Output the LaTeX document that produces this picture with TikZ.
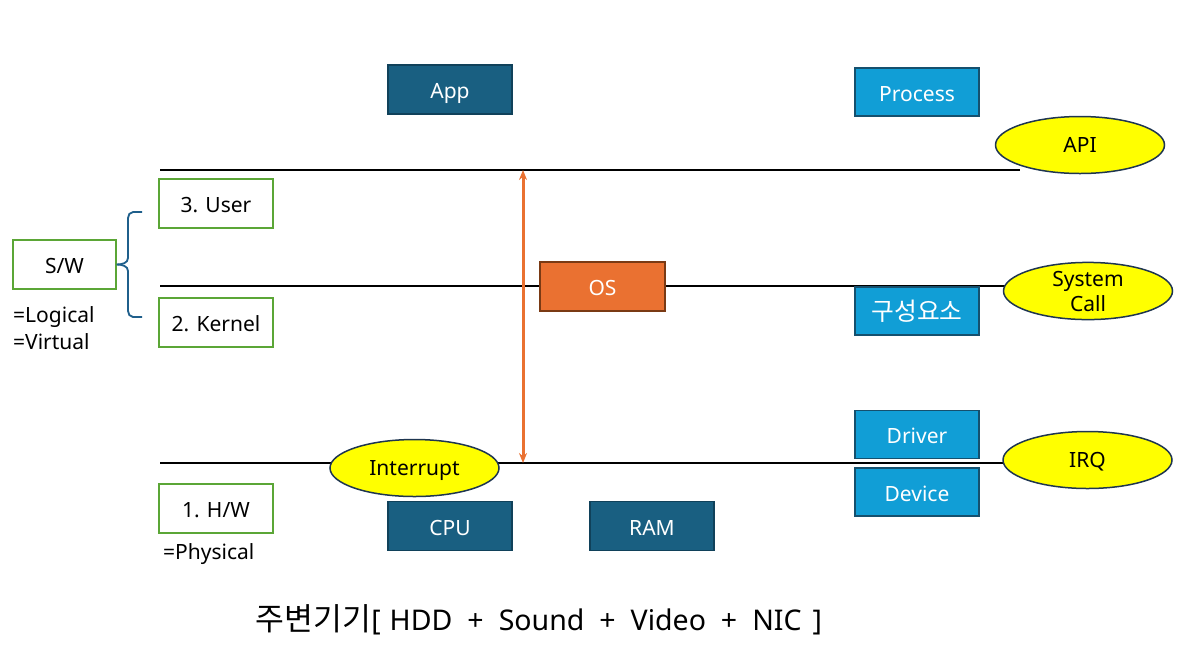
\documentclass[tikz,border=0pt]{standalone}
\usepackage{fontspec}
\setmainfont{Noto Sans}
\newfontfamily\kr[Scale=1.18]{Noto Sans CJK KR}
\newfontfamily\krb[Scale=1.1]{Noto Sans CJK KR}
\usetikzlibrary{shapes.geometric,arrows.meta}
\definecolor{darkfill}{HTML}{195F81}
\definecolor{darkedge}{HTML}{10415A}
\definecolor{lightfill}{HTML}{119ED6}
\definecolor{lightedge}{HTML}{15506E}
\definecolor{grn}{HTML}{5BA636}
\definecolor{orng}{HTML}{EA7131}
\definecolor{orngedge}{HTML}{7A3A14}
\definecolor{ylw}{HTML}{FFFF00}
\definecolor{ylwedge}{HTML}{1E3550}
\definecolor{bracec}{HTML}{1F5F8B}
\tikzset{
  base/.style={font=\fontsize{21}{24}\selectfont, inner sep=0pt, line width=1.5pt, text height=18pt, text depth=0pt},
  darkbox/.style={base, rectangle, fill=darkfill, draw=darkedge, text=white, minimum width=124pt, minimum height=49pt},
  lightbox/.style={base, rectangle, fill=lightfill, draw=lightedge, text=white, minimum width=124pt, minimum height=48pt},
  greenbox/.style={base, rectangle, fill=white, draw=grn, text=black, minimum width=114pt, minimum height=49pt},
  osbox/.style={base, rectangle, fill=orng, draw=orngedge, text=white, minimum width=125pt, minimum height=49pt},
  oval/.style={base, ellipse, fill=ylw, draw=ylwedge, text=black, minimum width=169pt, minimum height=57pt, text height=15pt},
  oval2/.style={oval, text height=, text depth=, align=center, font=\fontsize{21}{24}\selectfont},
  layer/.style={line width=1.8pt, draw=black},
  note/.style={font=\fontsize{21}{27}\selectfont, inner sep=0pt, anchor=west, align=left},
}
\begin{document}
\begin{tikzpicture}[x=1pt,y=-1pt]
\useasboundingbox (0,0) rectangle (1198,649);
% layer line end points
\coordinate (l1a) at (160,170);
\coordinate (l1b) at (1020,170);
\coordinate (l2a) at (160,286);
\coordinate (l2b) at (1010,286);
\coordinate (l3a) at (160,463);
\coordinate (l3b) at (1008,463);
\draw[layer] (l1a) -- (l1b);
\draw[layer] (l2a) -- (l2b);
\draw[layer] (l3a) -- (l3b);
% nodes
\node[darkbox] (app) at (450,89.5) {App};
\node[lightbox] (proc) at (917,92) {Process};
\node[oval] (api) at (1080,145) {API};
\node[greenbox] (user) at (216,203.5) {3. User};
\node[greenbox, minimum width=103pt] (sw) at (64.5,264.5) {S/W};
\node[osbox] (os) at (602.5,286.5) {OS};
\node[greenbox] (kernel) at (216,322.5) {2. Kernel};
\node[lightbox] (comp) at (917,311) {\kr 구성요소};
\node[oval2] (sc) at (1088,291) {System\\[1pt]Call};
\node[lightbox] (drv) at (917,434.5) {Driver};
\node[lightbox] (dev) at (917,492) {Device};
\node[oval] (irq) at (1087.5,460) {IRQ};
\node[oval] (intr) at (414.5,468) {Interrupt};
\node[greenbox] (hw) at (216,508.5) {1. H/W};
\node[darkbox] (cpu) at (450,526) {CPU};
\node[darkbox] (ram) at (652,526) {RAM};
% notes
\node[note] (logi) at (13,328) {=Logical\\=Virtual};
\node[note] (phys) at (163,554) {=Physical};
\node[font=\fontsize{28.5}{33}\selectfont, inner sep=0pt] (peri) at (539,620) {{\krb 주변기기}[\hspace{9pt}HDD\hspace{15pt}+\hspace{15pt}Sound\hspace{15pt}+\hspace{15pt}Video\hspace{15pt}+\hspace{15pt}NIC\hspace{11pt}]};
% OS span arrow
\coordinate (atop) at (523,170);
\coordinate (abot) at (523,463);
\draw[orng, line width=3pt, {Stealth[length=10pt,width=8pt]}-{Stealth[length=10pt,width=8pt]}] (atop) -- (abot);
% brace
\coordinate (btop) at (142,212);
\coordinate (bbot) at (142,317);
\draw[bracec, line width=1.8pt] (btop) -- (133,212) to[out=180,in=90] (128,218) -- (128,258)
  to[out=-90,in=0] (sw.east) ;
\draw[bracec, line width=1.8pt] (bbot) -- (133,317) to[out=180,in=-90] (128,311) -- (128,271)
  to[out=90,in=0] (sw.east);
\end{tikzpicture}
\end{document}
